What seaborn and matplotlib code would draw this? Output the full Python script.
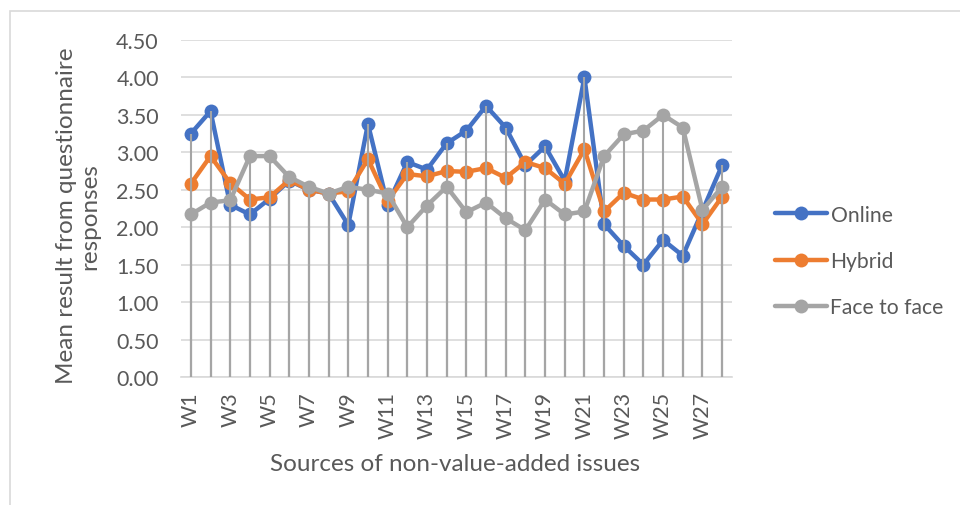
import numpy as np
import pandas as pd
import matplotlib
matplotlib.use("Agg")
import matplotlib.pyplot as plt
import seaborn as sns
from matplotlib.patches import Rectangle

categories = [f"W{i}" for i in range(1, 29)]
online = [3.25, 3.55, 2.30, 2.17, 2.38, 2.62, 2.50, 2.45, 2.03, 3.38, 2.30, 2.87, 2.77, 3.12,
          3.29, 3.62, 3.33, 2.83, 3.08, 2.62, 4.00, 2.04, 1.75, 1.50, 1.83, 1.62, 2.22, 2.83]
hybrid = [2.58, 2.95, 2.59, 2.37, 2.40, 2.63, 2.50, 2.45, 2.48, 2.91, 2.35, 2.71, 2.68, 2.75,
          2.74, 2.79, 2.66, 2.87, 2.79, 2.58, 3.04, 2.21, 2.46, 2.37, 2.37, 2.41, 2.04, 2.41]
face = [2.17, 2.33, 2.36, 2.95, 2.95, 2.67, 2.54, 2.45, 2.54, 2.50, 2.45, 2.00, 2.29, 2.54,
        2.20, 2.33, 2.12, 1.96, 2.37, 2.17, 2.21, 2.95, 3.24, 3.29, 3.50, 3.33, 2.23, 2.54]
series_names = ["Online", "Hybrid", "Face to face"]
y_ticks = [0.0, 0.5, 1.0, 1.5, 2.0, 2.5, 3.0, 3.5, 4.0, 4.5]

colors = {"Online": "#4472C4", "Hybrid": "#ED7D31", "Face to face": "#A5A5A5"}

df = pd.DataFrame({
    "cat": categories * 3,
    "idx": list(range(len(categories))) * 3,
    "value": online + hybrid + face,
    "series": [series_names[0]] * 28 + [series_names[1]] * 28 + [series_names[2]] * 28,
})

sns.set_theme(style="white")
plt.rcParams["font.family"] = ["Lato", "DejaVu Sans"]
text_color = "#595959"

fig = plt.figure(figsize=(9.6, 5.06), dpi=100)
ax = fig.add_axes([181 / 960, (506 - 378) / 506, 551 / 960, 337 / 506])

# chart border
fig.patches.append(Rectangle((10 / 960, -0.1), 1.2, (506 - 12) / 506 + 0.1,
                             transform=fig.transFigure, fill=False,
                             edgecolor="#D9D9D9", linewidth=1.2, zorder=0))

sns.lineplot(data=df, x="idx", y="value", hue="series", hue_order=series_names,
             palette=colors, marker="o", markersize=10, linewidth=3.2,
             markeredgewidth=0, sort=False, ax=ax, legend=True, zorder=3)

# drop lines
for name, vals in zip(series_names, [online, hybrid, face]):
    ax.vlines(np.arange(len(categories)), 0, vals, colors="#A5A5A5",
              linewidth=1.5, zorder=4)

ax.set_xlim(-0.5, len(categories) - 0.5)
ax.set_ylim(0, 4.5)
ax.set_yticks(y_ticks)
ax.set_yticklabels([f"{v:.2f}" for v in y_ticks])
ax.set_xticks(np.arange(0, len(categories), 2))
ax.set_xticklabels(categories[::2], rotation=90)
ax.tick_params(axis="y", length=0, pad=16, labelsize=15.5, labelcolor=text_color)
ax.tick_params(axis="x", length=0, pad=10, labelsize=15.5, labelcolor=text_color)
ax.grid(axis="y", color="#D9D9D9", linewidth=1.2, zorder=0)
ax.set_axisbelow(True)
for s in ["top", "right", "left"]:
    ax.spines[s].set_visible(False)
ax.spines["bottom"].set_color("#D9D9D9")
ax.spines["bottom"].set_linewidth(1.2)

ax.set_ylabel("Mean result from questionnaire\nresponses", fontsize=17.5,
              color=text_color, va="center", linespacing=1.1)
ax.yaxis.set_label_coords(-0.187, 0.48)
ax.set_xlabel("Sources of non-value-added issues", fontsize=17.5,
              color=text_color, va="center")
ax.xaxis.set_label_coords(0.497, -0.258)

handles, labels = ax.get_legend_handles_labels()
ax.get_legend().remove()
fig.legend(handles, labels, loc="center left",
           bbox_to_anchor=(764 / 960, (506 - 262) / 506), frameon=False,
           fontsize=15.2, labelcolor=text_color, handlelength=2.5,
           handletextpad=0.15, labelspacing=1.25, borderpad=0)

fig.savefig("out.png", dpi=100)
